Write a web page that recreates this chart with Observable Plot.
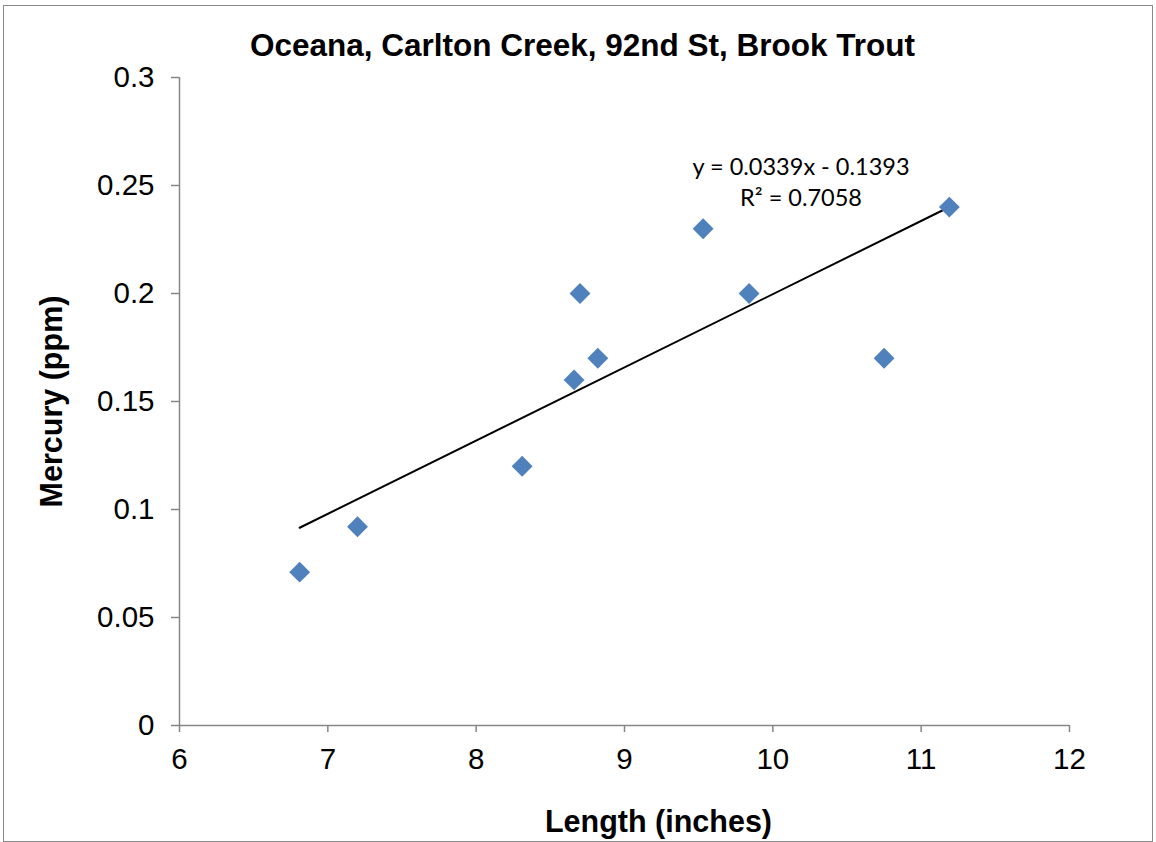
<!DOCTYPE html>
<html>
<head>
<meta charset="utf-8">
<script src="https://cdn.jsdelivr.net/npm/d3@7"></script>
<script src="https://cdn.jsdelivr.net/npm/@observablehq/plot@0.6"></script>
<style>
  html, body { margin: 0; padding: 0; background: #fff; }
  #wrap { position: relative; width: 1156px; height: 842px; overflow: hidden; }
  #border { position: absolute; left: 3px; top: 5px; width: 1150px; height: 837px; border: 1.5px solid #8a8a8a; box-sizing: border-box; pointer-events: none; }
  #chart { position: absolute; left: 0; top: 0; }
</style>
</head>
<body>
<div id="wrap"><div id="chart"></div><div id="border"></div></div>
<script>
const title = "Oceana, Carlton Creek, 92nd St, Brook Trout";
const xLabel = "Length (inches)";
const yLabel = "Mercury (ppm)";
const lengths = [6.81, 7.20, 8.31, 8.66, 8.70, 8.82, 9.53, 9.84, 10.75, 11.19];
const mercury = [0.071, 0.092, 0.12, 0.16, 0.20, 0.17, 0.23, 0.20, 0.17, 0.24];
const xTicks = [6, 7, 8, 9, 10, 11, 12];
const yTicks = [0, 0.05, 0.1, 0.15, 0.2, 0.25, 0.3];
const yTickLabels = ["0", "0.05", "0.1", "0.15", "0.2", "0.25", "0.3"];
const slope = [0.0339];
const intercept = [-0.1393];
const eqLines = ["y = 0.0339x - 0.1393", "R² = 0.7058"];

const points = lengths.map((x, i) => ({x, y: mercury[i]}));
const x0 = d3.min(lengths), x1 = d3.max(lengths);
const trend = [x0, x1].map(x => ({x, y: slope[0] * x + intercept[0]}));

const axisGray = "#868686";
const arial = "'Liberation Sans', Arial, sans-serif";
const calibri = "Lato, 'Open Sans', sans-serif";

const plot = Plot.plot({
  width: 1156,
  height: 842,
  marginLeft: 179,
  marginRight: 87,
  marginTop: 77,
  marginBottom: 117,
  style: {fontFamily: arial, background: "white", overflow: "visible"},
  x: {domain: [6, 12]},
  y: {domain: [0, 0.3]},
  marks: [
    Plot.ruleX([6], {stroke: axisGray, strokeWidth: 1.5}),
    Plot.ruleY([0], {stroke: axisGray, strokeWidth: 1.5}),
    Plot.axisX({ticks: xTicks, tickSize: 7, stroke: axisGray, strokeWidth: 1.5, tickPadding: 16, fontSize: 29.5, fill: "black", label: null, tickFormat: d => String(d)}),
    Plot.axisY({ticks: yTicks, tickSize: 8, stroke: axisGray, strokeWidth: 1.5, tickPadding: 17, fontSize: 29.5, fill: "black", label: null, tickFormat: d => yTickLabels[yTicks.indexOf(d)]}),
    Plot.line(trend, {x: "x", y: "y", stroke: "black", strokeWidth: 2}),
    Plot.dot(points, {x: "x", y: "y", symbol: "diamond2", r: 9.4, fill: "#4F81BD", stroke: "none"}),
    Plot.text([eqLines[0]], {x: 10.19, y: 0.2583, text: d => d, fontSize: 23.5, fontFamily: calibri, fill: "black"}),
    Plot.text([eqLines[1]], {x: 10.19, y: 0.244, text: d => d, fontSize: 23.5, fontFamily: calibri, fill: "black"}),
    Plot.text([title], {frameAnchor: "top", lineAnchor: "middle", textAnchor: "middle", dy: -32, dx: -42, text: d => d, fontSize: 31.5, fontWeight: "bold", fill: "black"}),
    Plot.text([xLabel], {frameAnchor: "bottom", lineAnchor: "middle", textAnchor: "middle", dy: 97, dx: 34, text: d => d, fontSize: 30.5, fontWeight: "bold", fill: "black"}),
    Plot.text([yLabel], {frameAnchor: "left", lineAnchor: "middle", textAnchor: "middle", dx: -127, dy: 0, text: d => d, fontSize: 30.5, fontWeight: "bold", fill: "black", rotate: -90})
  ]
});
document.getElementById("chart").appendChild(plot);
</script>
</body>
</html>
